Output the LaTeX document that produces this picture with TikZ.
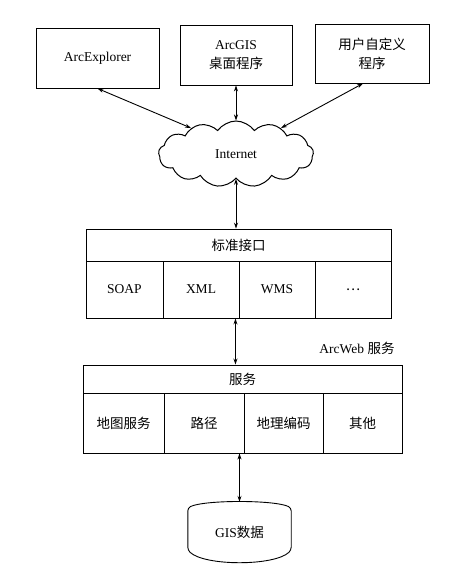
\documentclass[tikz,border=0pt]{standalone}
\usepackage{fontspec}
\setmainfont{Liberation Serif}
\newfontfamily\cjk{Noto Sans CJK SC}
\usetikzlibrary{shapes.symbols,arrows.meta,calc}
\begin{document}
\begin{tikzpicture}[x=1pt,y=-1pt,
  every node/.style={font=\fontsize{13.5}{19}\selectfont, inner sep=0pt},
  box/.style={draw, line width=0.9pt, minimum width=#1, align=center},
  cell/.style={draw, line width=0.9pt, minimum width=#1, minimum height=57pt},
  conn/.style={line width=0.9pt, {Stealth[length=6pt,width=4pt]}-{Stealth[length=6pt,width=4pt]}},
  ]
\useasboundingbox (0,0) rectangle (463,571);
% top boxes
\node[box=123pt, minimum height=60pt] (b1) at (97.5,58) {ArcExplorer};
\node[box=112pt, minimum height=60pt] (b2) at (236,55) {ArcGIS\\{\cjk 桌面程序}};
\node[box=114pt, minimum height=59pt] (b3) at (372,53.5) {{\cjk 用户自定义}\\{\cjk 程序}};
% cloud
\node[cloud, draw, line width=1pt, cloud puffs=13, cloud puff arc=110, aspect=2.4,
      minimum width=155pt, minimum height=66pt] (cl) at (236,154) {Internet};
% interface
\node[box=305pt, minimum height=32pt] (ih) at (238.5,245) {\cjk 标准接口};
\node[cell=77pt] (i1) at (124.5,289.5) {SOAP};
\node[cell=76pt] (i2) at (201,289.5) {XML};
\node[cell=76pt] (i3) at (277,289.5) {WMS};
\node[cell=76pt] (i4) at (353,289.5) {\cjk …};
\node (aw) at (357,348) {ArcWeb {\cjk 服务}};
% services
\node[box=319pt, minimum height=28pt] (sh) at (242.5,379) {\cjk 服务};
\node[cell=81pt, minimum height=60pt] (s1) at (123.5,423) {\cjk 地图服务};
\node[cell=80pt, minimum height=60pt] (s2) at (204,423) {\cjk 路径};
\node[cell=79pt, minimum height=60pt] (s3) at (283.5,423) {\cjk 地理编码};
\node[cell=79pt, minimum height=60pt] (s4) at (362.5,423) {\cjk 其他};
% cylinder
\node[minimum width=103pt, minimum height=60pt] (cyl) at (239.5,532) {GIS{\cjk 数据}};
\draw[line width=0.9pt, rounded corners=3pt]
  ($(cyl.north west)+(0,6)$) .. controls ($(cyl.north west)+(17,-2)$) and ($(cyl.north east)+(-17,-2)$) .. ($(cyl.north east)+(0,6)$)
  -- ($(cyl.south east)+(0,-12)$) .. controls ($(cyl.south east)+(-17,4)$) and ($(cyl.south west)+(17,4)$) .. ($(cyl.south west)+(0,-12)$)
  -- cycle;
% connectors
\draw[conn] (b1.south) -- (cl.150);
\draw[conn] (b2.south) -- (cl.north);
\draw[conn] ([xshift=-9pt]b3.south) -- (cl.30);
\draw[conn] (cl.south) -- (cl.south |- ih.north);
\draw[conn] ([xshift=-4pt]i2.south east) -- ([xshift=-4pt]i2.south east |- sh.north);
\draw[conn] (cyl.north |- s2.south) -- (cyl.north);
\end{tikzpicture}
\end{document}
